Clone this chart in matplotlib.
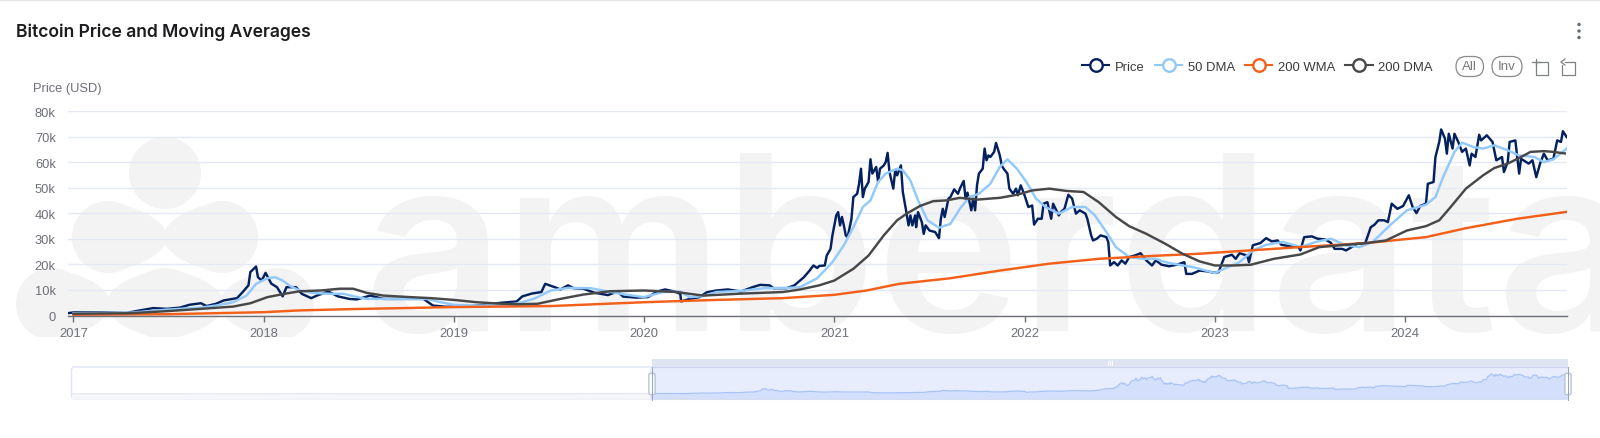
import numpy as np
import matplotlib
matplotlib.use('Agg')
import matplotlib.pyplot as plt
from matplotlib.lines import Line2D
from matplotlib.patches import Circle, FancyBboxPatch, PathPatch, Rectangle
from matplotlib.path import Path

# Values: decimal years, prices in thousand USD
price_x = [2016.97, 2017.0, 2017.14, 2017.28, 2017.35, 2017.42, 2017.49, 2017.56, 2017.61, 2017.67, 2017.70, 2017.75,
           2017.79, 2017.82, 2017.86, 2017.89, 2017.92, 2017.93, 2017.96, 2017.97, 2017.99, 2018.01, 2018.04, 2018.07,
           2018.10, 2018.12, 2018.17, 2018.20, 2018.25, 2018.28, 2018.34, 2018.39, 2018.45, 2018.49, 2018.56, 2018.63,
           2018.72, 2018.84, 2018.89, 2018.96, 2019.07, 2019.16, 2019.25, 2019.33, 2019.36, 2019.41, 2019.46, 2019.48,
           2019.53, 2019.56, 2019.60, 2019.63, 2019.68, 2019.74, 2019.81, 2019.86, 2019.89, 2019.96, 2020.02, 2020.07,
           2020.11, 2020.16, 2020.19, 2020.195, 2020.24, 2020.29, 2020.33, 2020.38, 2020.44, 2020.51, 2020.57, 2020.61,
           2020.66, 2020.68, 2020.75, 2020.79, 2020.82, 2020.84, 2020.87, 2020.89, 2020.91, 2020.92, 2020.95, 2020.96,
           2020.98, 2020.99, 2021.01, 2021.02, 2021.03, 2021.04, 2021.05, 2021.06, 2021.07, 2021.09, 2021.10, 2021.12,
           2021.13, 2021.14, 2021.15, 2021.16, 2021.18, 2021.19, 2021.20, 2021.22, 2021.23, 2021.24, 2021.26, 2021.27,
           2021.28, 2021.29, 2021.31, 2021.32, 2021.33, 2021.35, 2021.36, 2021.38, 2021.39, 2021.40, 2021.41, 2021.425,
           2021.43, 2021.44, 2021.46, 2021.47, 2021.48, 2021.50, 2021.53, 2021.55, 2021.56, 2021.57, 2021.58, 2021.60,
           2021.61, 2021.63, 2021.65, 2021.66, 2021.68, 2021.69, 2021.70, 2021.72, 2021.73, 2021.74, 2021.75, 2021.76,
           2021.78, 2021.79, 2021.80, 2021.81, 2021.82, 2021.84, 2021.85, 2021.87, 2021.88, 2021.89, 2021.91, 2021.92,
           2021.94, 2021.955, 2021.965, 2021.98, 2022.0, 2022.02, 2022.04, 2022.05, 2022.07, 2022.09, 2022.10, 2022.12,
           2022.14, 2022.15, 2022.18, 2022.19, 2022.21, 2022.23, 2022.25, 2022.27, 2022.29, 2022.32, 2022.33, 2022.35,
           2022.36, 2022.38, 2022.40, 2022.43, 2022.44, 2022.45, 2022.47, 2022.49, 2022.51, 2022.53, 2022.55, 2022.58,
           2022.61, 2022.64, 2022.67, 2022.69, 2022.72, 2022.76, 2022.80, 2022.84, 2022.85, 2022.88, 2022.92, 2022.96,
           2023.0, 2023.02, 2023.04, 2023.05, 2023.09, 2023.11, 2023.13, 2023.17, 2023.18, 2023.20, 2023.24, 2023.27,
           2023.30, 2023.33, 2023.35, 2023.39, 2023.44, 2023.45, 2023.47, 2023.51, 2023.54, 2023.58, 2023.61, 2023.63,
           2023.67, 2023.69, 2023.72, 2023.75, 2023.79, 2023.82, 2023.84, 2023.86, 2023.89, 2023.91, 2023.93, 2023.96,
           2023.99, 2024.02, 2024.04, 2024.06, 2024.08, 2024.11, 2024.12, 2024.15, 2024.16, 2024.18, 2024.19, 2024.21,
           2024.22, 2024.23, 2024.25, 2024.26, 2024.28, 2024.30, 2024.32, 2024.34, 2024.35, 2024.37, 2024.39, 2024.40,
           2024.43, 2024.46, 2024.48, 2024.51, 2024.52, 2024.54, 2024.55, 2024.58, 2024.60, 2024.61, 2024.65, 2024.67,
           2024.69, 2024.71, 2024.73, 2024.75, 2024.78, 2024.80, 2024.82, 2024.83, 2024.85]
price_k = [0.9, 1.2, 1.2, 1.0, 2.0, 2.9, 2.6, 3.1, 4.2, 4.8, 3.7, 4.6,
           5.9, 6.3, 6.8, 9.2, 11.8, 17.0, 19.2, 15.0, 13.7, 16.7, 12.5, 11.1,
           7.5, 11.1, 11.1, 8.5, 6.8, 7.8, 9.4, 7.5, 6.5, 6.3, 7.8, 6.5,
           6.5, 6.5, 3.9, 3.4, 3.5, 4.2, 5.0, 5.5, 7.5, 8.6, 9.2, 12.4,
           11.1, 10.2, 11.8, 10.7, 10.5, 8.9, 8.0, 9.4, 7.4, 7.0, 7.2, 9.4,
           10.2, 9.4, 8.5, 5.5, 6.5, 7.2, 9.1, 9.8, 10.2, 9.4, 11.1, 12.0,
           11.8, 10.7, 10.7, 11.8, 13.7, 15.0, 17.6, 19.6, 18.6, 19.4, 19.6, 23.5,
           26.1, 31.4, 39.2, 40.5, 35.3, 38.6, 35.3, 31.4, 30.7, 37.9, 46.4, 47.7,
           51.6, 57.5, 46.4, 49.7, 52.3, 61.2, 55.6, 58.2, 52.3, 57.5, 58.8, 60.1,
           63.7, 56.2, 49.7, 56.9, 54.9, 58.8, 48.4, 39.9, 35.3, 39.2, 35.3, 39.2,
           34.6, 40.5, 36.6, 32.0, 35.3, 33.3, 32.7, 30.3, 37.9, 41.8, 38.6, 45.8,
           46.4, 49.4, 47.7, 49.7, 52.7, 45.8, 48.1, 41.2, 45.8, 41.2, 51.0, 55.6,
           57.5, 65.4, 60.8, 62.7, 62.1, 64.1, 67.6, 62.7, 58.8, 57.5, 55.6, 49.7,
           47.7, 49.7, 47.1, 51.0, 47.1, 42.5, 43.1, 35.6, 37.9, 37.9, 43.8, 44.4,
           37.9, 43.8, 39.2, 40.5, 41.8, 47.3, 45.8, 39.9, 41.2, 39.9, 37.9, 31.4,
           29.4, 30.1, 31.4, 30.7, 28.8, 19.6, 20.9, 19.6, 21.6, 20.3, 22.9, 23.5,
           24.4, 21.6, 19.6, 21.6, 19.9, 19.3, 19.9, 20.9, 16.3, 16.3, 17.6, 17.3,
           16.7, 17.0, 20.9, 22.9, 23.8, 22.2, 24.4, 23.5, 20.9, 27.5, 28.4, 30.3,
           29.0, 29.4, 27.7, 27.2, 26.8, 25.5, 30.7, 31.0, 30.1, 29.8, 28.5, 26.1,
           26.1, 25.5, 26.8, 28.1, 28.1, 34.6, 35.6, 37.3, 37.3, 36.6, 43.8, 41.8,
           42.9, 47.1, 42.5, 40.1, 42.9, 43.8, 51.6, 52.3, 62.1, 68.0, 72.9, 69.3,
           63.4, 71.2, 65.4, 71.2, 68.0, 64.1, 65.4, 58.8, 63.4, 62.1, 70.8, 68.6,
           70.6, 68.0, 60.8, 62.1, 56.2, 60.1, 68.0, 68.6, 55.6, 61.4, 59.5, 60.8,
           54.2, 59.5, 63.4, 60.8, 61.4, 68.6, 68.0, 72.2, 69.9]

dma50_x = [2017.0, 2017.3, 2017.49, 2017.67, 2017.75, 2017.84, 2017.91, 2017.96, 2018.02, 2018.06, 2018.10, 2018.14,
           2018.19, 2018.26, 2018.35, 2018.42, 2018.47, 2018.54, 2018.68, 2018.86, 2018.93, 2019.0, 2019.11, 2019.16,
           2019.33, 2019.42, 2019.51, 2019.60, 2019.72, 2019.81, 2019.91, 2020.0, 2020.10, 2020.19, 2020.24, 2020.31,
           2020.38, 2020.52, 2020.63, 2020.75, 2020.82, 2020.91, 2020.99, 2021.05, 2021.10, 2021.15, 2021.19, 2021.23,
           2021.27, 2021.33, 2021.36, 2021.40, 2021.44, 2021.49, 2021.55, 2021.61, 2021.66, 2021.71, 2021.76, 2021.82,
           2021.87, 2021.91, 2021.96, 2022.01, 2022.06, 2022.11, 2022.18, 2022.25, 2022.32, 2022.37, 2022.43, 2022.48,
           2022.55, 2022.62, 2022.69, 2022.74, 2022.81, 2022.88, 2022.92, 2023.0, 2023.05, 2023.13, 2023.20, 2023.27,
           2023.36, 2023.45, 2023.54, 2023.61, 2023.69, 2023.76, 2023.83, 2023.92, 2024.01, 2024.11, 2024.16, 2024.20,
           2024.26, 2024.30, 2024.36, 2024.41, 2024.47, 2024.54, 2024.60, 2024.68, 2024.73, 2024.78, 2024.85]
dma50_k = [0.9, 1.1, 2.3, 3.1, 3.9, 5.2, 7.8, 12.4, 14.6, 15.0, 13.7, 11.5,
           9.8, 8.8, 8.5, 8.5, 7.6, 6.5, 6.5, 6.5, 5.2, 4.2, 3.9, 3.9,
           4.6, 6.5, 9.8, 10.8, 10.7, 9.4, 8.1, 7.2, 9.2, 9.4, 7.2, 7.6,
           9.2, 9.7, 10.7, 10.8, 11.1, 14.6, 20.9, 27.5, 34.6, 42.5, 45.1, 52.3,
           55.6, 57.5, 56.9, 52.9, 45.1, 37.3, 34.4, 35.9, 41.8, 46.4, 47.7, 51.6,
           58.2, 61.2, 57.5, 52.3, 45.8, 42.5, 39.9, 42.5, 42.5, 39.2, 32.7, 26.8,
           22.9, 22.2, 22.2, 20.9, 19.9, 19.0, 18.3, 16.6, 18.3, 20.9, 25.5, 27.7,
           28.8, 26.8, 29.0, 30.1, 27.5, 26.8, 28.8, 35.3, 41.2, 43.4, 46.4, 54.2,
           64.1, 67.7, 66.0, 65.4, 66.7, 64.7, 62.7, 62.1, 60.1, 61.2, 65.4]

dma200_x = [2017.0, 2017.3, 2017.49, 2017.67, 2017.84, 2017.93, 2018.02, 2018.11, 2018.19, 2018.30, 2018.40, 2018.47,
            2018.54, 2018.63, 2018.77, 2018.88, 2019.0, 2019.12, 2019.25, 2019.33, 2019.44, 2019.56, 2019.68, 2019.82,
            2020.0, 2020.17, 2020.31, 2020.52, 2020.73, 2020.82, 2020.92, 2021.0, 2021.10, 2021.18, 2021.26, 2021.33,
            2021.38, 2021.45, 2021.52, 2021.59, 2021.66, 2021.75, 2021.87, 2021.96, 2022.04, 2022.13, 2022.22, 2022.31,
            2022.39, 2022.48, 2022.55, 2022.64, 2022.74, 2022.83, 2022.92, 2023.0, 2023.10, 2023.19, 2023.31, 2023.45,
            2023.55, 2023.66, 2023.80, 2023.90, 2024.01, 2024.11, 2024.18, 2024.24, 2024.32, 2024.41, 2024.47, 2024.54,
            2024.61, 2024.66, 2024.73, 2024.78, 2024.84]
dma200_k = [0.7, 0.9, 1.7, 2.6, 3.5, 4.8, 7.2, 8.5, 9.5, 9.8, 10.5, 10.5,
            8.9, 7.8, 7.2, 6.8, 6.1, 5.2, 4.6, 4.4, 4.6, 6.5, 8.2, 9.5,
            9.8, 9.2, 7.8, 8.6, 9.2, 10.2, 11.8, 13.7, 18.3, 23.5, 31.4, 37.3,
            39.9, 42.9, 44.8, 45.1, 46.1, 45.4, 46.1, 47.3, 49.0, 49.7, 48.8, 48.4,
            44.4, 38.6, 35.0, 32.0, 28.1, 24.2, 21.2, 19.6, 19.6, 19.9, 22.2, 23.9,
            26.8, 27.5, 28.4, 29.4, 33.3, 35.0, 37.3, 42.5, 49.7, 54.9, 57.8, 59.5,
            62.1, 64.1, 64.4, 64.1, 63.5]

wma200_x = [2017.0, 2017.49, 2018.0, 2018.19, 2018.46, 2019.0, 2019.25, 2019.51, 2020.0, 2020.38, 2020.73, 2021.0,
            2021.17, 2021.34, 2021.61, 2021.87, 2022.13, 2022.39, 2022.66, 2022.92, 2023.0, 2023.45, 2023.80, 2024.11,
            2024.32, 2024.59, 2024.85]
wma200_k = [0.3, 0.5, 1.3, 2.0, 2.5, 3.3, 3.5, 3.7, 5.2, 6.1, 6.8, 8.1,
            9.8, 12.4, 14.6, 17.6, 20.3, 22.2, 23.3, 24.2, 24.6, 26.8, 28.4, 30.7,
            34.2, 37.9, 40.6]

# price history before the zoomed window, only seen in the slider
early_x = [2012.0, 2013.0, 2014.0, 2015.0, 2016.0, 2016.97]
early_k = [0.01, 0.1, 0.7, 0.3, 0.4, 0.9]

year_ticks = [2017, 2018, 2019, 2020, 2021, 2022, 2023, 2024]
value_ticks = [0, 10000, 20000, 30000, 40000, 50000, 60000, 70000, 80000]
value_labels = ['0', '10k', '20k', '30k', '40k', '50k', '60k', '70k', '80k']

names = ['Price', '50 DMA', '200 WMA', '200 DMA']
colors = ['#04215f', '#92c9fb', '#f4601a', '#484848']

W, H = 1600, 439
plt.rcParams['font.family'] = ['Liberation Sans', 'DejaVu Sans']
grey_text = '#6e7079'


def px_axes(fig, left, top, right, bottom, **kw):
    # axes placed by picture pixels
    return fig.add_axes([left / W, 1 - bottom / H, (right - left) / W, (bottom - top) / H], **kw)


def bridge(ax, x0, x1, y, r, neck, color):
    # waist between two blobs of the logo
    mid = (x0 + x1) / 2
    verts = [(x0, y - r), (mid - 10, y - r + 10), (mid, y - neck), (mid + 10, y - r + 10), (x1, y - r),
             (x1, y + r), (mid + 10, y + r - 10), (mid, y + neck), (mid - 10, y + r - 10), (x0, y + r), (x0, y - r)]
    codes = [Path.MOVETO, Path.CURVE3, Path.CURVE3, Path.CURVE3, Path.CURVE3,
             Path.LINETO, Path.CURVE3, Path.CURVE3, Path.CURVE3, Path.CURVE3, Path.CLOSEPOLY]
    return ax.add_patch(PathPatch(Path(verts, codes), fc=color, ec='none'))


fig = plt.figure(figsize=(16, 4.39), dpi=100)

# page furniture and watermark sit behind the chart
bg = fig.add_axes([0, 0, 1, 1], zorder=0)
bg.set_xlim(0, W)
bg.set_ylim(H, 0)
bg.axis('off')
mark = '#f3f3f3'
clip = Rectangle((0, 0), W, 338, transform=bg.transData)
for cx, cy in [(165, 174), (108, 238), (222, 238), (52, 305), (165, 305), (278, 305)]:
    bg.add_patch(Circle((cx, cy), 36, fc=mark, ec='none')).set_clip_path(clip)
bridge(bg, 108, 222, 238, 36, 7, mark)
bridge(bg, 52, 165, 305, 36, 8, mark).set_clip_path(clip)
bridge(bg, 165, 278, 305, 36, 8, mark).set_clip_path(clip)
wm = bg.text(364, 331, 'amberdata', family=['Inter', 'DejaVu Sans'], fontsize=176, fontweight='semibold', color=mark,
             ha='left', va='baseline')
wm.set_clip_path(clip)
bg.plot([0, W], [0.5, 0.5], color='#e6e6e6', lw=1)

bg.text(16, 32.5, 'Bitcoin Price and Moving Averages', family=['Inter', 'DejaVu Sans'], fontsize=12.6,
        fontweight='semibold', color='#1c1c1e', va='center')
for dy in [25.5, 32, 38.5]:
    bg.add_patch(Circle((1579, dy), 1.7, fc='#5f6b76', ec='none'))
bg.text(33, 89, 'Price (USD)', fontsize=9.3, color=grey_text, va='center')

# main chart
ax = px_axes(fig, 68.3, 112.3, 1566.7, 316.5, zorder=1)
ax.patch.set_alpha(0)
ax.set_xlim(2016.973, 2024.85)
ax.set_ylim(0, 80000)
ax.grid(axis='y', color='#e4e9f5', lw=1)
ax.set_axisbelow(True)
series = [(price_x, price_k), (dma50_x, dma50_k), (wma200_x, wma200_k), (dma200_x, dma200_k)]
for (sx, sk), name, col in zip(series, names, colors):
    ax.plot(sx, np.array(sk) * 1000, color=col, lw=1.75, label=name, solid_joinstyle='round')
for side in ['top', 'right', 'left']:
    ax.spines[side].set_visible(False)
ax.spines['bottom'].set_color(grey_text)
ax.spines['bottom'].set_linewidth(1)
ax.set_xticks(year_ticks)
ax.set_xticklabels([str(y) for y in year_ticks])
ax.set_yticks(value_ticks)
ax.set_yticklabels(value_labels)
ax.tick_params(axis='x', length=4, width=1, color=grey_text, labelcolor=grey_text, labelsize=9.3, pad=4)
ax.tick_params(axis='y', length=0, labelcolor=grey_text, labelsize=9.3, pad=9)

# legend with hollow markers
handles = [Line2D([], [], color=c, lw=1.5, marker='o', ms=9, mfc='white', mew=1.7) for c in colors]
leg = fig.legend(handles, names, loc='center left', bbox_to_anchor=(1082 / W, 1 - 67.5 / H), ncol=4, frameon=False,
                 fontsize=9.4, handlelength=2.1, handletextpad=0.42, columnspacing=0.78, borderpad=0,
                 borderaxespad=0, labelcolor='#3a3a3a')

# All / Inv buttons and the toolbox icons
for x0, x1, txt in [(1456, 1483.5, 'All'), (1492, 1522, 'Inv')]:
    bg.add_patch(FancyBboxPatch((x0 + 10, 67.5), x1 - x0 - 20, 0.01, boxstyle='round,pad=10,rounding_size=10',
                                fc='white', ec='#8a8a8a', lw=0.9))
    bg.text((x0 + x1) / 2, 67.5, txt, fontsize=9.6, color='#7a7a7a', ha='center', va='center')
icon = '#7d8287'
bg.plot([1536, 1548, 1548, 1536, 1536], [63, 63, 76, 76, 63], color=icon, lw=0.9)
bg.plot([1532, 1540], [63, 63], color=icon, lw=0.9)
bg.plot([1536, 1536], [60, 66], color=icon, lw=0.9)
bg.plot([1565, 1575, 1575, 1562, 1562], [63, 63, 76, 76, 66], color=icon, lw=0.9)
bg.plot([1565, 1561, 1565], [60, 63, 66], color=icon, lw=0.9)

# data zoom slider under the chart
bg.add_patch(FancyBboxPatch((71.5, 368), 1496.5, 32, boxstyle='round,pad=0,rounding_size=3', fc='white',
                            ec='#dfe5f5', lw=1))
mini = px_axes(fig, 71.5, 368, 1568, 400, zorder=1)
mini.patch.set_alpha(0)
mini.set_xlim(2012.0, 2024.85)
mini.set_ylim(-19000, 98000)
mini.axis('off')
hist_x = np.array(early_x + price_x)
hist_v = np.array(early_k + price_k) * 1000
left_part = hist_x <= 2017
right_part = hist_x >= 2016.97
mini.fill_between(hist_x[left_part], hist_v[left_part], -19000, color='#f6f6fb', lw=0)
mini.plot(hist_x[left_part], hist_v[left_part], color='#e4e8f6', lw=0.9)
mini.axvspan(2016.97, 2024.85, color='#e7edfd', lw=0)
mini.fill_between(hist_x[right_part], hist_v[right_part], -19000, color='#d3dffb', lw=0)
mini.plot(hist_x[right_part], hist_v[right_part], color='#aac3f6', lw=0.9)

top = px_axes(fig, 0, 0, 1600, 439, zorder=2)
top.set_xlim(0, W)
top.set_ylim(H, 0)
top.axis('off')
top.add_patch(Rectangle((652, 360), 916, 8, fc='#dfe4f2', ec='none'))
for tx in [1108, 1110, 1112]:
    top.plot([tx, tx], [362, 366], color='white', lw=0.7)
top.plot([652, 1568], [368, 368], color='#cdd6ea', lw=0.8)
top.plot([652, 1568], [400.5, 400.5], color='#d6def2', lw=0.8)
for hx in [652, 1568]:
    top.plot([hx, hx], [368, 401], color='#98a3b8', lw=0.7)
    top.add_patch(FancyBboxPatch((hx - 2.5, 375), 5, 20, boxstyle='round,pad=0.6,rounding_size=1.5', fc='white',
                                 ec='#b8c3da', lw=1))

fig.savefig('out.png', dpi=100)
